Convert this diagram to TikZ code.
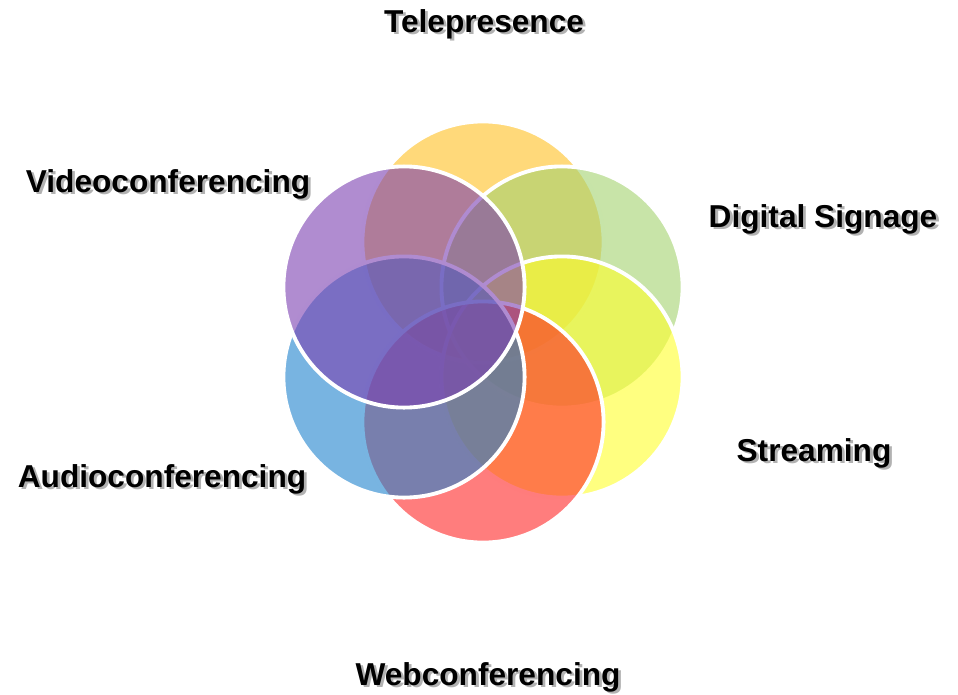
\documentclass[tikz,border=0pt]{standalone}
\usepackage{fontspec}
\setmainfont{Liberation Sans}
\usepackage{xcolor}
\usepackage{tikz}
\usetikzlibrary{positioning}
\definecolor{telecolor}{RGB}{255,192,33}
\definecolor{signcolor}{RGB}{163,210,110}
\definecolor{streamcolor}{RGB}{255,255,43}
\definecolor{webcolor}{RGB}{255,38,38}
\definecolor{audiocolor}{RGB}{30,130,205}
\definecolor{videocolor}{RGB}{123,63,177}
\newcommand{\dropshadow}[1]{\makebox[0pt][l]{\raisebox{-0.8pt}{\hspace{0.8pt}\textcolor{black!30}{#1}}}#1}

\begin{document}
\begin{tikzpicture}[
    x=0.01cm, y=-0.01cm,
    petal/.style={circle, draw=white, line width=1.1pt, fill opacity=0.6, minimum size=2.41cm, inner sep=0pt},
    topic/.style={anchor=base, inner sep=0pt, font=\fontsize{9}{11}\selectfont\bfseries},
]
    \useasboundingbox (0,0) rectangle (958,694);

    % petals, drawn clockwise from the top
    \node[petal, fill=telecolor] (tele) at (483,242) {};
    \node[petal, fill=signcolor] (signage) at (562,287) {};
    \node[petal, fill=streamcolor] (stream) at (562,377) {};
    \node[petal, fill=webcolor] (web) at (483,422) {};
    \node[petal, fill=audiocolor] (audio) at (404,377) {};
    \node[petal, fill=videocolor] (video) at (404,287) {};

    % labels
    \node[topic] (telelabel) at (484,32) {\dropshadow{Telepresence}};
    \node[topic] (videolabel) at (168,192) {\dropshadow{Videoconferencing}};
    \node[topic] (signlabel) at (823,227) {\dropshadow{Digital Signage}};
    \node[topic] (streamlabel) at (814,461) {\dropshadow{Streaming}};
    \node[topic] (audiolabel) at (162,487) {\dropshadow{Audioconferencing}};
    \node[topic] (weblabel) at (488,685) {\dropshadow{Webconferencing}};
\end{tikzpicture}
\end{document}
